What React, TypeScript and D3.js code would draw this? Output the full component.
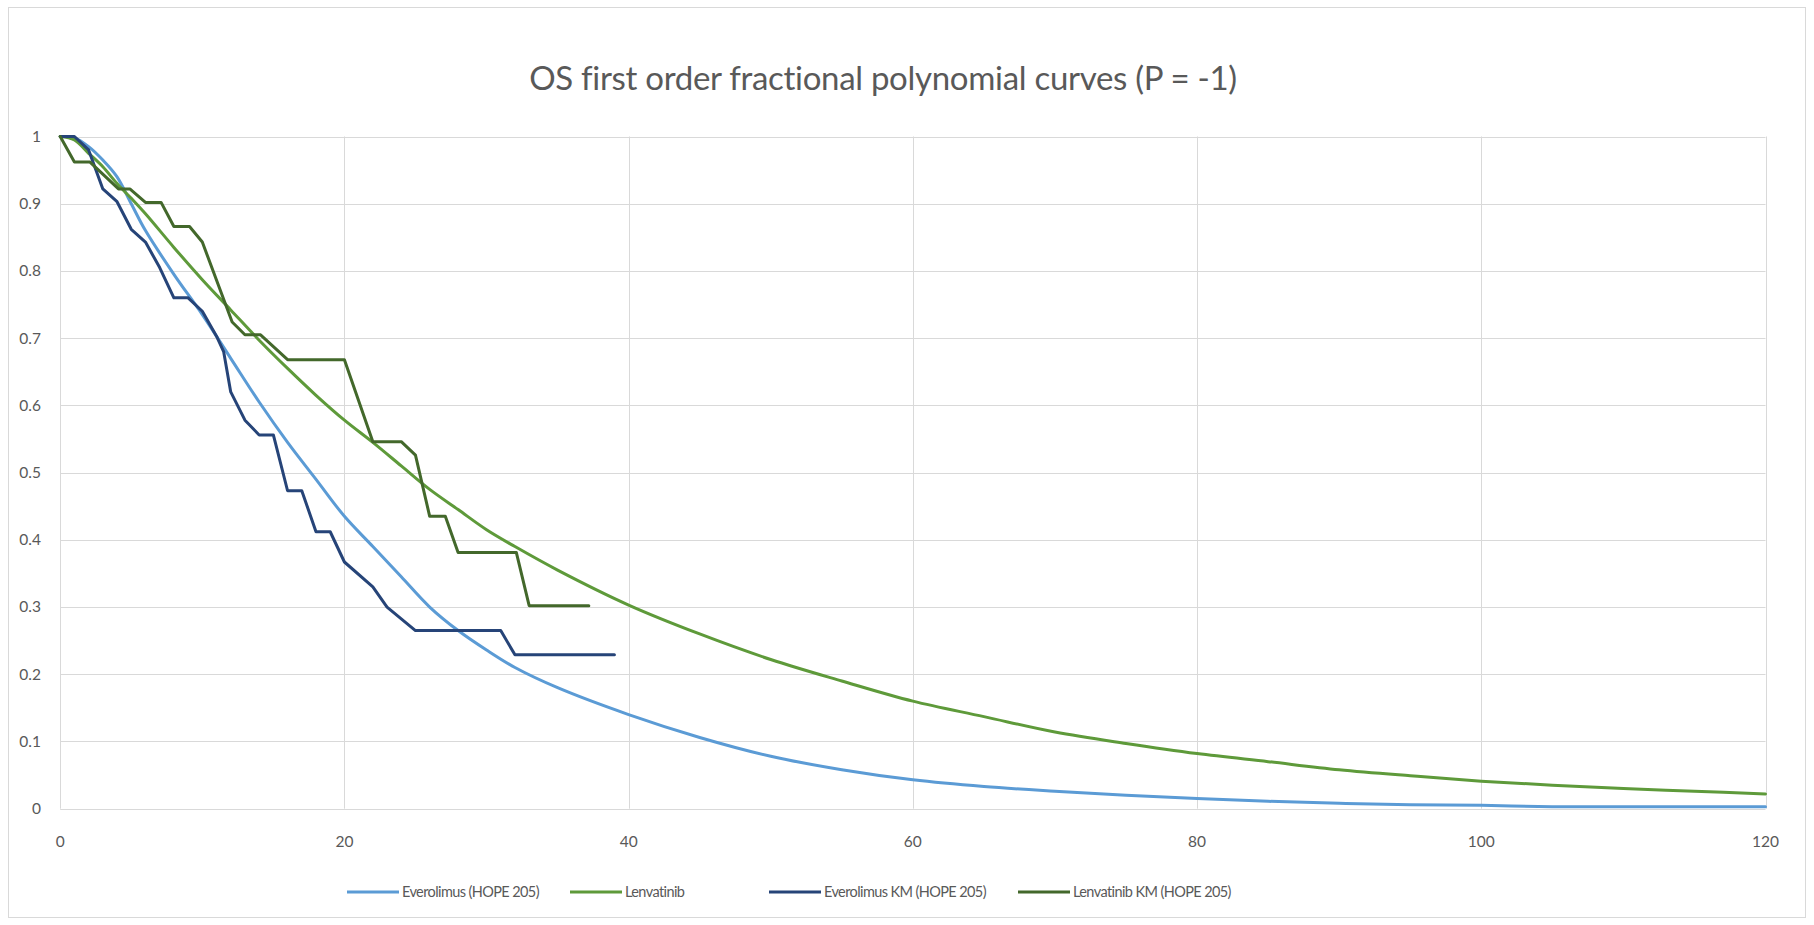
import React from "react";
import * as d3 from "d3";

// ---- Data ----
const fitMonths = [0, 1, 2, 3, 4, 5, 6, 8, 10, 12, 14, 16, 18, 20, 22, 24, 26, 28, 30, 32, 35, 40, 45, 50, 55, 60, 65, 70, 75, 80, 85, 90, 95, 100, 105, 110, 115, 120];
const everolimusFit = [1, 0.998, 0.985, 0.965, 0.94, 0.9, 0.86, 0.795, 0.735, 0.67, 0.605, 0.545, 0.49, 0.435, 0.39, 0.345, 0.3, 0.265, 0.236, 0.21, 0.18, 0.14, 0.106, 0.078, 0.058, 0.043, 0.033, 0.026, 0.02, 0.015, 0.011, 0.008, 0.006, 0.005, 0.003, 0.003, 0.003, 0.003];
const lenvatinibFit = [1, 0.995, 0.975, 0.955, 0.93, 0.908, 0.885, 0.835, 0.787, 0.742, 0.697, 0.655, 0.615, 0.578, 0.545, 0.51, 0.475, 0.445, 0.415, 0.39, 0.355, 0.303, 0.26, 0.222, 0.19, 0.16, 0.137, 0.114, 0.097, 0.082, 0.07, 0.058, 0.049, 0.041, 0.035, 0.03, 0.026, 0.022];

const everolimusKmMonths = [0, 1, 2, 3, 4, 5, 6, 7, 8, 9, 10, 11, 11.5, 12, 13, 14, 15, 16, 17, 18, 19, 20, 22, 23, 25, 31, 32, 39];
const everolimusKm = [1, 1, 0.98, 0.922, 0.903, 0.862, 0.843, 0.805, 0.76, 0.76, 0.74, 0.703, 0.68, 0.62, 0.578, 0.556, 0.556, 0.473, 0.473, 0.412, 0.412, 0.367, 0.33, 0.3, 0.265, 0.265, 0.229, 0.229];

const lenvatinibKmMonths = [0, 1, 2.1, 4.1, 4.9, 6, 7.1, 8, 9.1, 10, 12.1, 13, 14.1, 16, 20, 22, 24, 25, 26, 27.1, 28, 32.1, 33, 37.2];
const lenvatinibKm = [1, 0.962, 0.962, 0.922, 0.922, 0.902, 0.902, 0.866, 0.866, 0.843, 0.724, 0.705, 0.705, 0.668, 0.668, 0.546, 0.546, 0.526, 0.435, 0.435, 0.381, 0.381, 0.302, 0.302];

const xTicks = [0, 20, 40, 60, 80, 100, 120];
const yTicks = [0, 0.1, 0.2, 0.3, 0.4, 0.5, 0.6, 0.7, 0.8, 0.9, 1];

const title = "OS first order fractional polynomial curves (P = -1)";
const seriesNames = ["Everolimus (HOPE 205)", "Lenvatinib", "Everolimus KM (HOPE 205)", "Lenvatinib KM (HOPE 205)"];
const seriesColors = ["#5B9BD5", "#5E9A3A", "#264478", "#43682B"];

const W = 1814;
const H = 925;
const plot = { left: 60.2, right: 1765.5, top: 136.5, bottom: 808.7 };
const FONT = "Lato, 'Open Sans', sans-serif";

export default function App() {
  const x = d3.scaleLinear().domain([0, 120]).range([plot.left, plot.right]);
  const y = d3.scaleLinear().domain([0, 1]).range([plot.bottom, plot.top]);

  const smooth = d3
    .line<[number, number]>()
    .x((d) => x(d[0]))
    .y((d) => y(d[1]))
    .curve(d3.curveCatmullRom.alpha(0.5));
  const straight = d3
    .line<[number, number]>()
    .x((d) => x(d[0]))
    .y((d) => y(d[1]));

  const zip = (a: number[], b: number[]) => a.map((t, i) => [t, b[i]] as [number, number]);

  const paths = [
    smooth(zip(fitMonths, everolimusFit)),
    smooth(zip(fitMonths, lenvatinibFit)),
    straight(zip(everolimusKmMonths, everolimusKm)),
    straight(zip(lenvatinibKmMonths, lenvatinibKm)),
  ];

  const legendLineX = [347, 570, 769, 1018];
  const legendY = 892;

  return (
    <svg
      width={W}
      height={H}
      style={{ position: "absolute", left: 0, top: 0, display: "block", background: "#fff" }}
      fontFamily={FONT}
    >
      <rect x={8.5} y={7.5} width={1797} height={910} fill="#fff" stroke="#d9d9d9" strokeWidth={1} />
      <text x={883} y={90} textAnchor="middle" fontSize={33} fill="#595959" letterSpacing={-0.3}>
        {title}
      </text>

      {/* gridlines */}
      {yTicks.map((t) => (
        <line key={"gy" + t} x1={plot.left} x2={plot.right} y1={Math.round(y(t)) + 0.5} y2={Math.round(y(t)) + 0.5} stroke="#d9d9d9" strokeWidth={1} />
      ))}
      {xTicks.map((t) => (
        <line key={"gx" + t} x1={Math.round(x(t)) + 0.5} x2={Math.round(x(t)) + 0.5} y1={plot.top} y2={plot.bottom} stroke="#d9d9d9" strokeWidth={1} />
      ))}

      {/* tick labels */}
      {yTicks.map((t) => (
        <text key={"ly" + t} x={41} y={y(t)} dy="0.35em" textAnchor="end" fontSize={15.5} fill="#595959">
          {d3.format("~g")(t)}
        </text>
      ))}
      {xTicks.map((t) => (
        <text key={"lx" + t} x={x(t)} y={842} dy="0.35em" textAnchor="middle" fontSize={15.5} fill="#595959">
          {t}
        </text>
      ))}

      {/* series */}
      {paths.map((p, i) => (
        <path key={"s" + i} d={p || ""} fill="none" stroke={seriesColors[i]} strokeWidth={3} strokeLinejoin="round" strokeLinecap="round" />
      ))}

      {/* legend */}
      {seriesNames.map((n, i) => (
        <g key={"lg" + i}>
          <line x1={legendLineX[i]} x2={legendLineX[i] + 52} y1={legendY} y2={legendY} stroke={seriesColors[i]} strokeWidth={3} />
          <text x={legendLineX[i] + 55} y={legendY} dy="0.35em" fontSize={14.5} fill="#595959" letterSpacing={-0.6}>
            {n}
          </text>
        </g>
      ))}
    </svg>
  );
}
